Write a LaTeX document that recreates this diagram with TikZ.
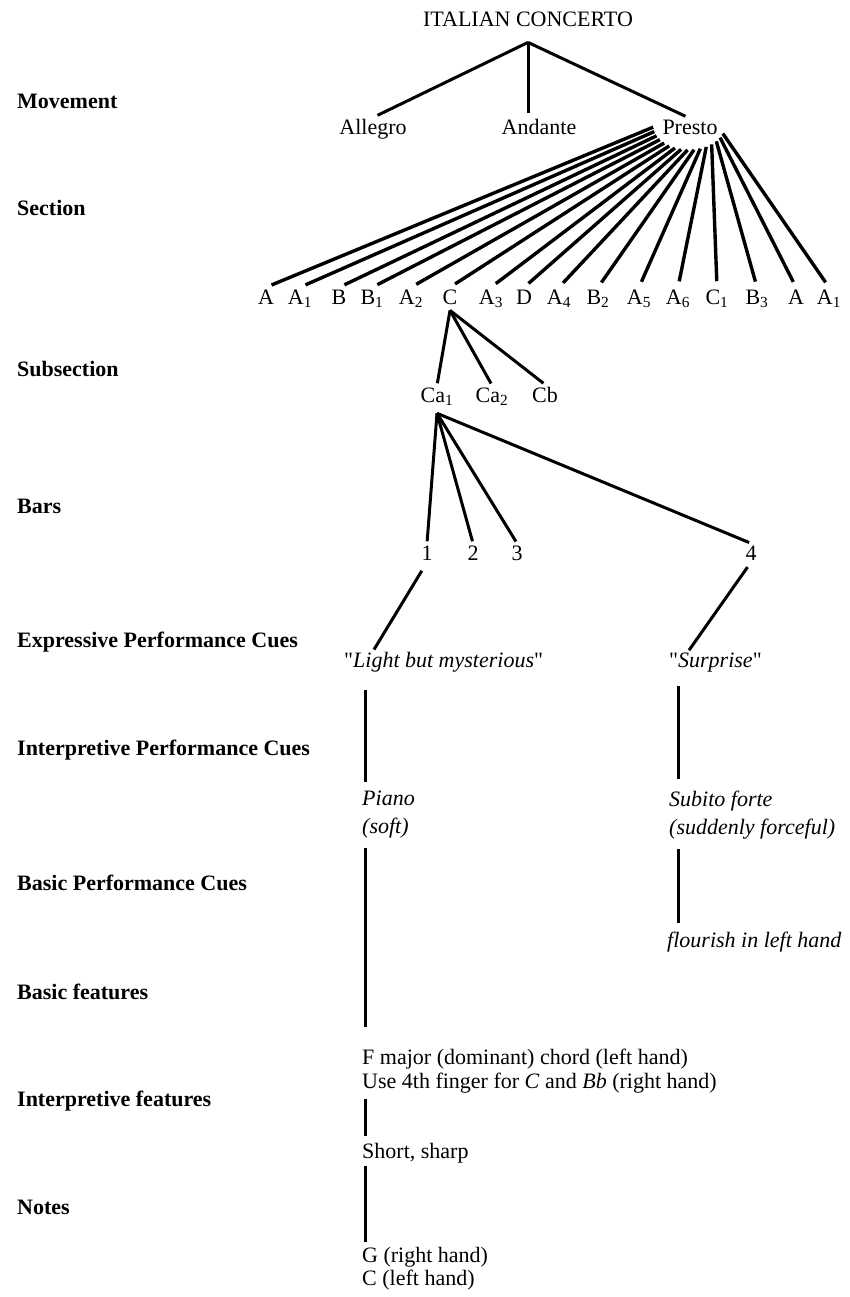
\documentclass[tikz,border=0pt]{standalone}
\usepackage{fontspec}
\setmainfont{Liberation Serif}
\usetikzlibrary{calc}

\begin{document}
\begin{tikzpicture}[x=1pt, y=-1pt,
    every node/.style={font=\fontsize{22}{27}\selectfont, inner sep=2pt},
    level/.style={anchor=base west, font=\fontsize{22}{27}\selectfont\bfseries},
    item/.style={anchor=base},
    cue/.style={anchor=base west},
    block/.style={anchor=north west, align=left},
    link/.style={line width=3pt},
    fan/.style={line width=3.4pt, shorten >=6pt}]

    \useasboundingbox (0,0) rectangle (850,1297);

    % Row titles
    \foreach \y/\txt [count=\i] in {109/Movement, 216/Section, 376/Subsection, 513/Bars,
        647/Expressive Performance Cues, 755/Interpretive Performance Cues,
        890/Basic Performance Cues, 999/Basic features,
        1106/Interpretive features, 1214/Notes}
        \node[level] (row\i) at (15,\y) {\txt};

    % Movements
    \node[item] (title) at (528,27) {ITALIAN CONCERTO};
    \node[item] (allegro) at (373,135) {Allegro};
    \node[item] (andante) at (539,135) {Andante};
    \node[item] (presto) at (690,135) {Presto};
    \coordinate (tApex) at ([yshift=-13pt]title.south);
    \draw[link, shorten >=5pt] (tApex) -- (allegro.north);
    \draw[link, shorten >=5pt] (tApex) -- (tApex |- andante.north);
    \draw[link, shorten >=5pt] (tApex) -- (presto.north);

    % Sections
    \foreach \x/\s [count=\i] in {266/A, 300/A\textsubscript{1}, 339/B, 372/B\textsubscript{1},
        411/A\textsubscript{2}, 450/C, 491/A\textsubscript{3}, 524/D, 559/A\textsubscript{4},
        598/B\textsubscript{2}, 639/A\textsubscript{5}, 678/A\textsubscript{6},
        717/C\textsubscript{1}, 757/B\textsubscript{3}, 796/A, 829/A\textsubscript{1}} {
        \node[item] (s\i) at (\x,304) {\s};
        \pgfmathsetmacro\t{175-(\i-1)*155/15}
        \draw[fan] ($(presto.base)+({-1+36*cos(\t)},{-10+25*sin(\t)})$) -- (s\i.north);
    }

    % Subsections
    \node[item] (ca1) at (437,402) {Ca\textsubscript{1}};
    \node[item] (ca2) at (492,402) {Ca\textsubscript{2}};
    \node[item] (cb) at (545,402) {Cb};
    \coordinate (cApex) at ([yshift=-4pt]s6.south);
    \foreach \c in {ca1,ca2,cb}
        \draw[link, shorten >=2pt] (cApex) -- (\c.north);

    % Bars
    \coordinate (caApex) at ([yshift=-6pt]ca1.south);
    \foreach \x/\b in {427/1, 473/2, 517/3, 751/4} {
        \node[item] (bar\b) at (\x,560) {\b};
        \draw[link, shorten >=2pt] (caApex) -- (bar\b.north);
    }

    % Cues
    \node[cue] (light) at (342,667) {\textquotedbl\textit{Light but mysterious}\textquotedbl};
    \node[cue] (surp) at (667,667) {\textquotedbl\textit{Surprise}\textquotedbl};
    \coordinate (lightTop) at ([xshift=32pt]light.north west);
    \coordinate (surpTop) at ([xshift=22pt]surp.north west);
    \draw[link, shorten <=10pt] (bar1.south) -- (lightTop);
    \draw[link, shorten <=6pt] (bar4.south) -- (surpTop);

    \node[block, font=\fontsize{22}{28}\selectfont\itshape] (piano) at (360,789) {Piano\\(soft)};
    \node[block, font=\fontsize{22}{28}\selectfont\itshape] (subito) at (667,789) {Subito forte\\(suddenly forceful)};
    \node[cue, font=\fontsize{22}{27}\selectfont\itshape] (flour) at (665,947) {flourish in left hand};
    \node[block, font=\fontsize{22}{24}\selectfont] (chord) at (360,1047)
        {F major (dominant) chord (left hand)\\Use 4th finger for \textit{C} and \textit{Bb} (right hand)};
    \node[cue] (short) at (360,1158) {Short, sharp};
    \node[block, font=\fontsize{22}{23}\selectfont] (notes) at (360,1245) {G (right hand)\\C (left hand)};

    % Vertical links
    \coordinate (colL) at (365,0);
    \coordinate (colR) at (678,0);
    \draw[link, shorten <=16pt, shorten >=7pt] (light.south -| colL) -- (piano.north -| colL);
    \draw[link, shorten <=7pt, shorten >=20pt] (piano.south -| colL) -- (chord.north -| colL);
    \draw[link, shorten <=3pt, shorten >=5pt] (chord.south -| colL) -- (short.north -| colL);
    \draw[link, shorten <=1pt, shorten >=3pt] (short.south -| colL) -- (notes.north -| colL);
    \draw[link, shorten <=12pt, shorten >=10pt] (surp.south -| colR) -- (subito.north -| colR);
    \draw[link, shorten <=7pt, shorten >=6pt] (subito.south -| colR) -- (flour.north -| colR);

\end{tikzpicture}
\end{document}
